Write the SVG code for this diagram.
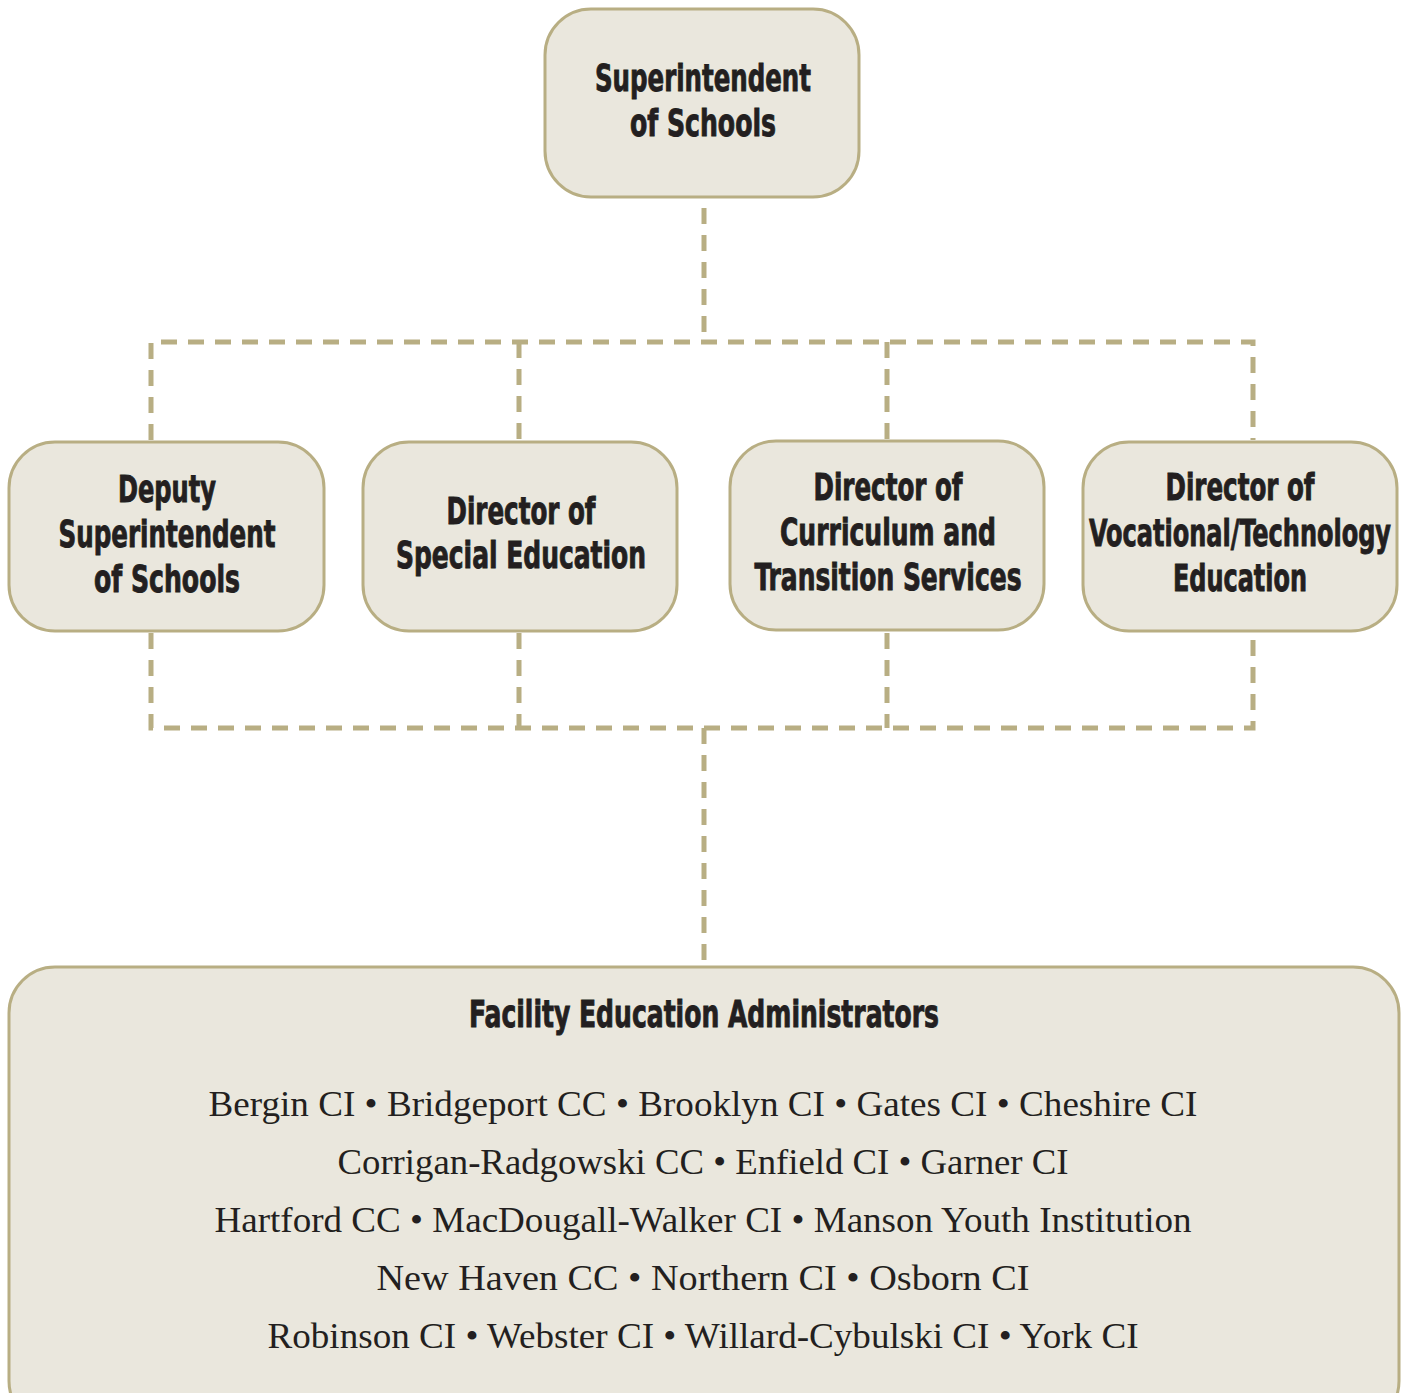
<svg xmlns="http://www.w3.org/2000/svg" width="1409" height="1393" viewBox="0 0 1409 1393">
<style>
.box{fill:#eae7dd;stroke:#b8ae83;stroke-width:3}
.h{font-family:"Liberation Sans Narrow","DejaVu Sans Condensed","Liberation Sans",sans-serif;font-weight:bold;font-size:38px;fill:#231f20;stroke:#231f20;stroke-width:0.9;text-anchor:middle}
.s{font-family:"Liberation Serif","DejaVu Serif",serif;font-size:36px;fill:#231f20;text-anchor:middle}
.c{fill:none;stroke:#b8ae83;stroke-width:5;stroke-dasharray:16 11}
</style>
<rect width="1409" height="1393" fill="#ffffff"/>
<g id="connectors">
<path class="c" d="M704 208 V342"/>
<path class="c" d="M151 440 V342 H1253 V440"/>
<path class="c" d="M519 342 V440"/>
<path class="c" d="M887 342 V440"/>
<path class="c" d="M151 633 V728 H1253 V633"/>
<path class="c" d="M519 633 V728"/>
<path class="c" d="M887 633 V728"/>
<path class="c" d="M704 728 V965"/>
</g>
<g id="superintendent">
<rect class="box" x="545" y="9" width="314" height="188" rx="46"/>
<text class="h" x="703" y="91" textLength="216" lengthAdjust="spacingAndGlyphs">Superintendent</text>
<text class="h" x="703" y="136" textLength="146" lengthAdjust="spacingAndGlyphs">of Schools</text>
</g>
<g id="deputy">
<rect class="box" x="9" y="442" width="315" height="189" rx="46"/>
<text class="h" x="167" y="502" textLength="98" lengthAdjust="spacingAndGlyphs">Deputy</text>
<text class="h" x="167" y="547" textLength="217" lengthAdjust="spacingAndGlyphs">Superintendent</text>
<text class="h" x="167" y="592" textLength="146" lengthAdjust="spacingAndGlyphs">of Schools</text>
</g>
<g id="special-ed">
<rect class="box" x="363" y="442" width="314" height="189" rx="46"/>
<text class="h" x="521" y="524" textLength="149" lengthAdjust="spacingAndGlyphs">Director of</text>
<text class="h" x="521" y="568" textLength="250" lengthAdjust="spacingAndGlyphs">Special Education</text>
</g>
<g id="curriculum">
<rect class="box" x="730" y="441" width="314" height="189" rx="46"/>
<text class="h" x="888" y="500" textLength="149" lengthAdjust="spacingAndGlyphs">Director of</text>
<text class="h" x="888" y="545" textLength="216" lengthAdjust="spacingAndGlyphs">Curriculum and</text>
<text class="h" x="888" y="590" textLength="267" lengthAdjust="spacingAndGlyphs">Transition Services</text>
</g>
<g id="vocational">
<rect class="box" x="1083" y="442" width="314" height="189" rx="46"/>
<text class="h" x="1240" y="500" textLength="149" lengthAdjust="spacingAndGlyphs">Director of</text>
<text class="h" x="1240" y="546" textLength="302" lengthAdjust="spacingAndGlyphs">Vocational/Technology</text>
<text class="h" x="1240" y="591" textLength="134" lengthAdjust="spacingAndGlyphs">Education</text>
</g>
<g id="facility">
<rect class="box" x="9" y="967" width="1390" height="460" rx="46"/>
<text class="h" x="704" y="1027" textLength="470" lengthAdjust="spacingAndGlyphs">Facility Education Administrators</text>
<text class="s" x="703" y="1116" textLength="989" lengthAdjust="spacingAndGlyphs">Bergin CI • Bridgeport CC • Brooklyn CI • Gates CI • Cheshire CI</text>
<text class="s" x="703" y="1174" textLength="731" lengthAdjust="spacingAndGlyphs">Corrigan-Radgowski CC • Enfield CI • Garner CI</text>
<text class="s" x="703" y="1232" textLength="977" lengthAdjust="spacingAndGlyphs">Hartford CC • MacDougall-Walker CI • Manson Youth Institution</text>
<text class="s" x="703" y="1290" textLength="653" lengthAdjust="spacingAndGlyphs">New Haven CC • Northern CI • Osborn CI</text>
<text class="s" x="703" y="1348" textLength="871" lengthAdjust="spacingAndGlyphs">Robinson CI • Webster CI • Willard-Cybulski CI • York CI</text>
</g>
</svg>
